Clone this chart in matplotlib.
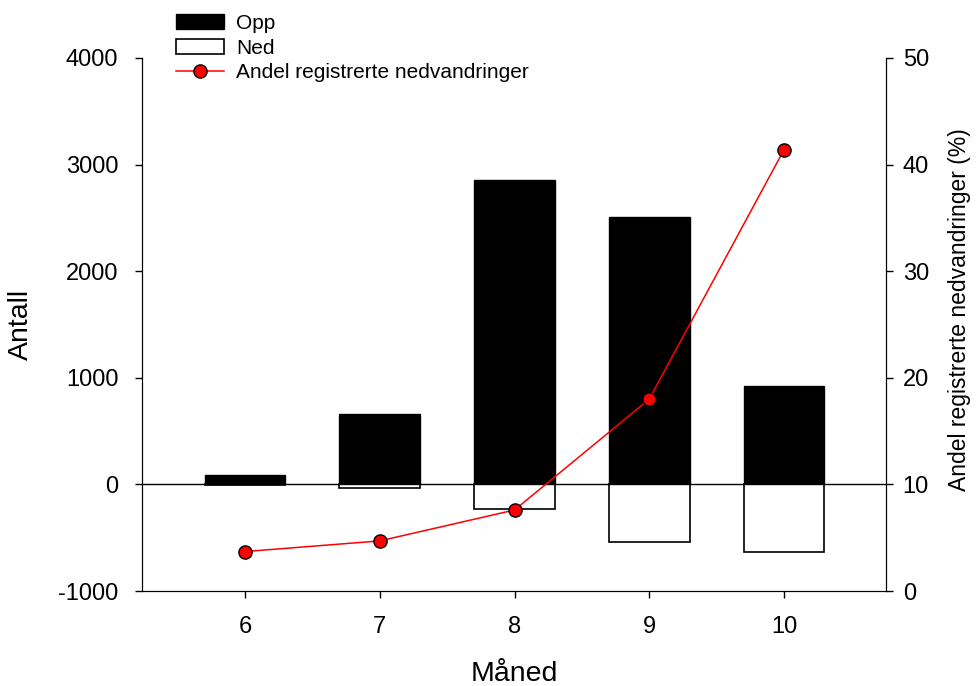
import matplotlib
matplotlib.use("Agg")
import matplotlib.pyplot as plt
from matplotlib.patches import Patch
from matplotlib.lines import Line2D

plt.rcParams['font.family'] = ['Liberation Sans', 'DejaVu Sans']
plt.rcParams['axes.unicode_minus'] = False

# data
months = [6, 7, 8, 9, 10]
opp = [90, 665, 2860, 2505, 925]
ned = [-4, -30, -232, -544, -638]
andel = [3.7, 4.7, 7.6, 18.0, 41.4]

fig = plt.figure(figsize=(9.76, 6.86), dpi=100)
ax = fig.add_axes([142/976, 95/686, 744/976, 533/686])

ax.bar(months, opp, width=0.6, color='black', edgecolor='black', linewidth=1.0, zorder=2)
ax.bar(months, ned, width=0.6, color='white', edgecolor='black', linewidth=1.2, zorder=2)
ax.axhline(0, color='black', linewidth=1.0, zorder=3)

ax.set_xlim(5.235, 10.757)
ax.set_ylim(-1000, 4000)
ax.set_yticks([-1000, 0, 1000, 2000, 3000, 4000])
ax.set_xticks(months)
ax.spines['top'].set_visible(False)
ax.tick_params(axis='both', labelsize=17, direction='out', length=5, width=1)
ax.tick_params(axis='y', pad=12)
ax.tick_params(axis='x', pad=13)
ax.set_ylabel('Antall', fontsize=20.5)
ax.yaxis.set_label_coords(-0.145, 0.5)
ax.set_xlabel('Måned', fontsize=20.5)
ax.xaxis.set_label_coords(0.5, -0.131)

ax2 = ax.twinx()
ax2.plot(months, andel, color='red', linewidth=1.1, marker='o', markersize=9.5,
         markerfacecolor='red', markeredgecolor='black', markeredgewidth=1.0, zorder=4)
ax2.set_ylim(0, 50)
ax2.set_yticks([0, 10, 20, 30, 40, 50])
ax2.spines['top'].set_visible(False)
ax2.tick_params(axis='y', labelsize=17, direction='out', length=5, width=1, pad=7)
ax2.set_ylabel('Andel registrerte nedvandringer (%)', fontsize=16.5)
ax2.yaxis.set_label_coords(1.083, 0.527)

handles = [
    Patch(facecolor='black', edgecolor='black'),
    Patch(facecolor='white', edgecolor='black', linewidth=1.2),
    Line2D([0], [0], color='red', linewidth=1.1, marker='o', markersize=9.5,
           markerfacecolor='red', markeredgecolor='black', markeredgewidth=1.0),
]
fig.legend(handles, ['Opp', 'Ned', 'Andel registrerte nedvandringer'],
           loc='upper left', bbox_to_anchor=(176/976, 1 - 14/686), frameon=False,
           fontsize=15, borderpad=0, borderaxespad=0, labelspacing=0.27,
           handlelength=2.3, handletextpad=0.6)

fig.savefig('out.png', dpi=100)
